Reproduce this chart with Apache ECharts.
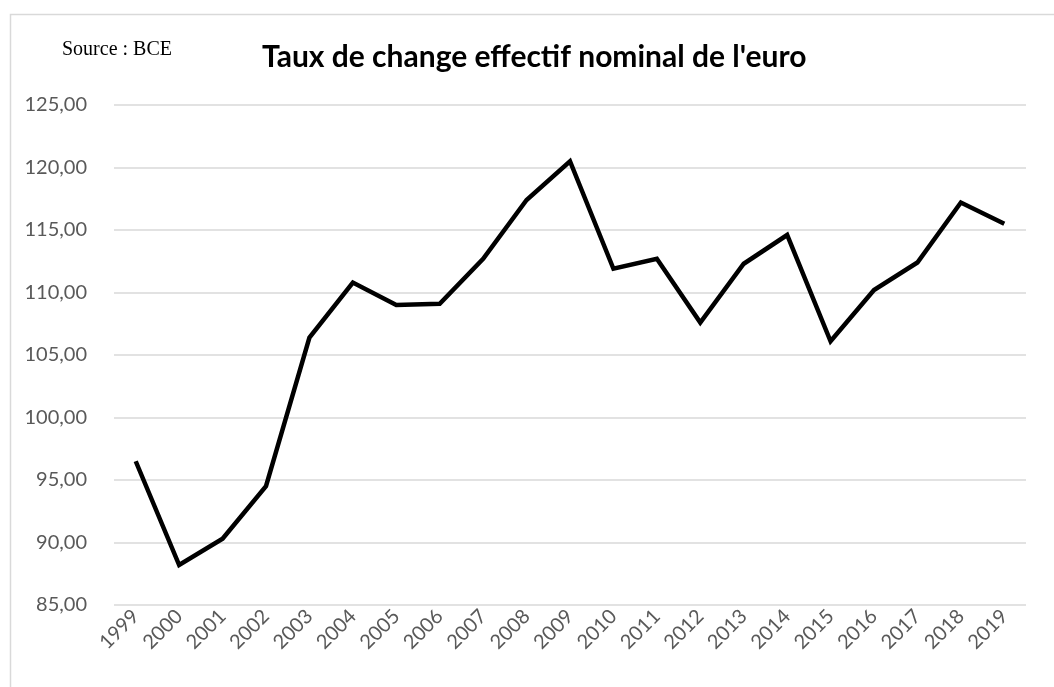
<!DOCTYPE html>
<html>
<head>
<meta charset="utf-8">
<title>Taux de change effectif nominal de l'euro</title>
<script src="https://cdn.jsdelivr.net/npm/echarts@6/dist/echarts.min.js"></script>
<style>
  html, body { margin: 0; padding: 0; background: #fff; }
  #chart { width: 1054px; height: 687px; }
</style>
</head>
<body>
<div id="chart"></div>
<script>
// années (axe des abscisses)
const years = ['1999', '2000', '2001', '2002', '2003', '2004', '2005', '2006', '2007', '2008',
  '2009', '2010', '2011', '2012', '2013', '2014', '2015', '2016', '2017', '2018', '2019']

// taux de change effectif nominal
const tcen = [96.5, 88.2, 90.3, 94.5, 106.4, 110.8, 109.0, 109.1, 112.7, 117.4,
  120.5, 111.9, 112.7, 107.6, 112.3, 114.6, 106.1, 110.2, 112.4, 117.2, 115.5]

const titleText = "Taux de change effectif nominal de l'euro"
const sourceText = 'Source : BCE'

const chart = echarts.init(document.getElementById('chart'))

chart.setOption({
  animation: false,
  backgroundColor: '#fff',
  graphic: [
    {
      // cadre de la zone du graphique
      type: 'rect',
      left: 8, top: 12,
      shape: { width: 1070, height: 700 },
      style: { fill: 'none', stroke: '#d9d9d9', lineWidth: 1.5 },
      silent: true
    },
    {
      type: 'text',
      left: 62, top: 40,
      style: {
        text: sourceText,
        fill: '#000',
        font: '20px "Liberation Serif", "Times New Roman", serif'
      }
    },
    {
      type: 'text',
      left: 262, top: 42,
      style: {
        text: titleText,
        fill: '#000',
        font: 'bold 30px Lato, Calibri, sans-serif'
      }
    }
  ],
  grid: { left: 114, right: 28, top: 105, bottom: 82, containLabel: false },
  xAxis: {
    type: 'category',
    data: years,
    boundaryGap: true,
    axisLine: { show: false },
    axisTick: { show: false },
    axisLabel: {
      rotate: 45,
      margin: 8,
      color: '#595959',
      fontSize: 20,
      fontFamily: 'Lato, Calibri, sans-serif'
    }
  },
  yAxis: {
    type: 'value',
    min: 85,
    max: 125,
    interval: 5,
    axisLine: { show: false },
    axisTick: { show: false },
    splitLine: { lineStyle: { color: '#d9d9d9', width: 1.5 } },
    axisLabel: {
      margin: 27,
      color: '#595959',
      fontSize: 20,
      fontFamily: 'Lato, Calibri, sans-serif',
      formatter: v => v.toFixed(2).replace('.', ',')
    }
  },
  series: [
    {
      type: 'line',
      data: tcen,
      symbol: 'none',
      lineStyle: { color: '#000', width: 4.5, join: 'miter' },
      itemStyle: { color: '#000' }
    }
  ]
})
</script>
</body>
</html>
